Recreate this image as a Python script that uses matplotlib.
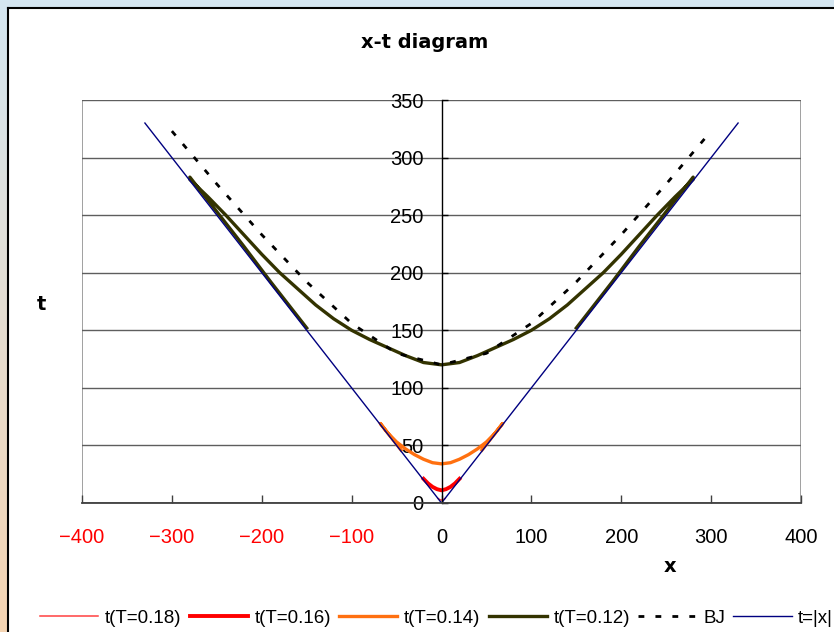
import numpy as np
import matplotlib.pyplot as plt
from matplotlib.patches import Rectangle
from matplotlib.lines import Line2D

# light-cone curves for several T, plus BJ reference and t=|x|
x_018 = [-4, -2, 0, 2, 4]
t_018 = [4, 3, 2.5, 3, 4]

x_016 = [-20, -15, -10, -5, 0, 5, 10, 15, 20]
t_016 = [21, 17, 14, 12, 11, 12, 14, 17, 21]

x_014 = [-45, -57, -68, -68, -60, -50, -40, -30, -20, -10, 0,
         10, 20, 30, 40, 50, 60, 68, 68, 57, 45]
t_014 = [46, 58, 69, 69, 61, 53, 47, 42, 38, 35, 34,
         35, 38, 42, 47, 53, 61, 69, 69, 58, 46]

x_012 = [-150, -190, -220, -250, -280,
         -280, -260, -240, -220, -200, -180, -160, -140, -120, -100,
         -80, -60, -40, -20, 0, 20, 40, 60, 80, 100,
         120, 140, 160, 180, 200, 220, 240, 260, 280,
         280, 250, 220, 190, 150]
t_012 = [152, 192, 223, 253, 283,
         281, 266, 250, 233, 216, 200, 186, 172, 160, 150,
         142, 135, 128, 122, 120, 122, 128, 135, 142, 150,
         160, 172, 186, 200, 216, 233, 250, 266, 281,
         283, 253, 223, 192, 152]

x_bj = [-300, -250, -200, -150, -100, -50, 0, 50, 100, 150, 200, 250, 300]
t_bj = [323, 277, 233, 192, 156, 130, 120, 130, 156, 192, 233, 277, 323]

x_abs = [-330, 0, 330]
t_abs = [330, 0, 330]

xticks = [-400, -300, -200, -100, 0, 100, 200, 300, 400]
yticks = [0, 50, 100, 150, 200, 250, 300, 350]

W, H = 834, 632
fig = plt.figure(figsize=(W / 100, H / 100), dpi=100)

# window-style gradient background
bg = fig.add_axes([0, 0, 1, 1], zorder=-10)
top = np.array([212, 230, 241]) / 255
bot = np.array([245, 212, 178]) / 255
f = np.linspace(0, 1, 256)[:, None]
grad = top[None, :] * (1 - f) + bot[None, :] * f
bg.imshow(grad[:, None, :], aspect='auto', extent=[0, 1, 0, 1])
bg.axis('off')

# white chart area with black left/top border
fig.patches.append(Rectangle((8 / W, 0), 1, 1 - 8 / H, transform=fig.transFigure,
                             facecolor='white', edgecolor='none', zorder=-5))
fig.lines.append(Line2D([8 / W, 8 / W], [0, 1 - 8 / H], transform=fig.transFigure,
                        color='black', lw=1.5, zorder=-4))
fig.lines.append(Line2D([8 / W, 1], [1 - 8 / H, 1 - 8 / H], transform=fig.transFigure,
                        color='black', lw=1.5, zorder=-4))

ax = fig.add_axes([82 / W, (H - 503) / H, 719 / W, 403 / H])
ax.set_facecolor('white')

ax.plot(x_018, t_018, color='#ff4040', lw=1.1, label='t(T=0.18)')
ax.plot(x_016, t_016, color='#ff0000', lw=2.8, label='t(T=0.16)')
ax.plot(x_014, t_014, color='#ff7010', lw=2.4, label='t(T=0.14)')
ax.plot(x_012, t_012, color='#333300', lw=2.4, label='t(T=0.12)')
ax.plot(x_bj, t_bj, color='black', lw=2.0, linestyle=(0, (2.1, 4.0)),
        dash_capstyle='butt', label='BJ')
ax.plot(x_abs, t_abs, color='#000080', lw=1.0, label='t=|x|')

ax.set_xlim(-400, 400)
ax.set_ylim(0, 350)
ax.set_xticks(xticks)
ax.set_yticks(yticks)
ax.yaxis.grid(True, color='#5e5e5e', lw=1)
ax.set_axisbelow(True)

# frame in gray, y axis crossing at x=0
ax.add_patch(Rectangle((0, 0), 1, 1, transform=ax.transAxes, fill=False,
                       edgecolor='#999999', lw=1.3, zorder=0.5))
ax.spines['left'].set_position(('data', 0))
ax.spines['left'].set_color('black')
ax.spines['left'].set_linewidth(1.0)
ax.spines['right'].set_visible(False)
ax.spines['top'].set_visible(False)
ax.spines['bottom'].set_color('#404040')
ax.spines['bottom'].set_linewidth(1.3)

ax.tick_params(axis='y', direction='in', length=4, width=1, pad=13,
               labelsize=14.5, colors='black')
ax.tick_params(axis='x', direction='in', length=6, width=1, pad=18,
               labelsize=14.5, color='#404040')
ax.set_xticklabels([str(v) if v >= 0 else '\u2212' + str(-v) for v in xticks])
for v, lab in zip(xticks, ax.get_xticklabels()):
    lab.set_color('red' if v < 0 else 'black')
for lab in ax.get_yticklabels():
    lab.set_fontfamily('Liberation Sans')
for lab in ax.get_xticklabels():
    lab.set_fontfamily('Liberation Sans')

fig.text(425 / W, 1 - 42 / H, 'x-t diagram', ha='center', va='center',
         fontsize=14, fontweight='bold')
fig.text(41 / W, 1 - 304 / H, 't', ha='center', va='center',
         fontsize=14, fontweight='bold')
fig.text(670 / W, 1 - 566 / H, 'x', ha='center', va='center',
         fontsize=14, fontweight='bold')

handles, labels = ax.get_legend_handles_labels()
fig.legend(handles, labels, loc='center left', bbox_to_anchor=(40 / W, 1 - 618 / H),
           ncol=6, frameon=False, borderpad=0, borderaxespad=0,
           handlelength=3.1, handletextpad=0.35, columnspacing=0.45,
           prop={'family': 'Liberation Sans', 'size': 13.5})

fig.savefig('out.png', dpi=100)
